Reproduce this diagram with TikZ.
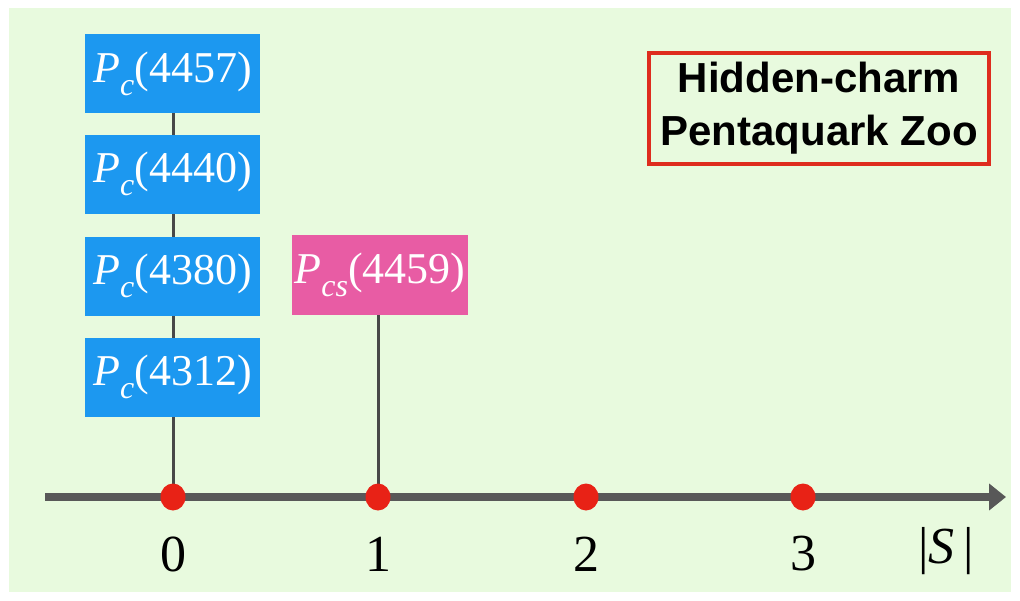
\documentclass[tikz,border=0pt]{standalone}
\usepackage{fontspec}
\setmainfont{Liberation Serif}
\newfontfamily\titlefont{Liberation Sans}
\usetikzlibrary{arrows.meta,shapes.geometric}
\definecolor{bggreen}{RGB}{232,250,222}
\definecolor{pcblue}{RGB}{28,152,240}
\definecolor{pcpink}{RGB}{232,92,164}
\definecolor{zred}{RGB}{222,44,30}
\definecolor{dotred}{RGB}{232,34,22}
\definecolor{axgray}{RGB}{88,88,88}
\definecolor{lngray}{RGB}{72,72,72}
\pgfdeclarelayer{bg}
\pgfdeclarelayer{lines}
\pgfsetlayers{bg,lines,main}
\newcommand{\Pc}[2]{\raisebox{-3pt}{\textit{P}\raisebox{-0.3em}{\fontsize{32}{32}\selectfont\textit{#1}}(#2)}}
\tikzset{
  pbox/.style={rectangle, inner sep=0pt, minimum width=175pt, minimum height=79pt,
    text=white, font=\fontsize{44}{44}\selectfont},
  bluebox/.style={pbox, fill=pcblue},
  pinkbox/.style={pbox, fill=pcpink, minimum width=176pt, minimum height=80pt},
  dotnode/.style={ellipse, fill=dotred, inner sep=0pt, minimum width=25pt, minimum height=27pt},
  stem/.style={draw=lngray, line width=3pt},
  axlabel/.style={font=\fontsize{52}{52}\selectfont, text=black, inner sep=0pt}
}
\begin{document}
\begin{tikzpicture}[x=1pt,y=-1pt]
\useasboundingbox (0,0) rectangle (1020,600);
\begin{pgfonlayer}{bg}
\fill[white] (0,0) rectangle (1020,600);
\fill[bggreen] (9,8) rectangle (1011,592);
\end{pgfonlayer}
% axis
\coordinate (axL) at (45,497);
\coordinate (axR) at (1006,497);
\draw[axgray, line width=8pt, -{Triangle[length=17pt,width=26pt]}] (axL) -- (axR);
% dots
\node[dotnode] (d0) at (173,497) {};
\node[dotnode] (d1) at (378,497) {};
\node[dotnode] (d2) at (586,497) {};
\node[dotnode] (d3) at (803,497) {};
% labels
\node[axlabel] (l0) at (173,554) {0};
\node[axlabel] (l1) at (378,554) {1};
\node[axlabel] (l2) at (586,554) {2};
\node[axlabel] (l3) at (803,554) {3};
\node[axlabel] (lS) at (946,551) {|\textit{S}\,|};
% boxes
\node[bluebox] (b4457) at (172.5,73.5) {\Pc{c}{4457}};
\node[bluebox] (b4440) at (172.5,174) {\Pc{c}{4440}};
\node[bluebox] (b4380) at (172.5,276) {\Pc{c}{4380}};
\node[bluebox] (b4312) at (172.5,377) {\Pc{c}{4312}};
\node[pinkbox] (p4459) at (380,275) {\Pc{cs}{4459}};
% stems
\begin{pgfonlayer}{lines}
\draw[stem] (d0.center) -- (d0.center |- b4457.south);
\draw[stem] (d1.center) -- (d1.center |- p4459.south);
\end{pgfonlayer}
% title
\node[draw=zred, line width=4pt, minimum width=340pt, minimum height=111pt,
  align=center, font=\titlefont\bfseries\fontsize{42}{53}\selectfont, inner sep=0pt]
  (title) at (819,108.5) {Hidden-charm\\Pentaquark Zoo};
\end{tikzpicture}
\end{document}
